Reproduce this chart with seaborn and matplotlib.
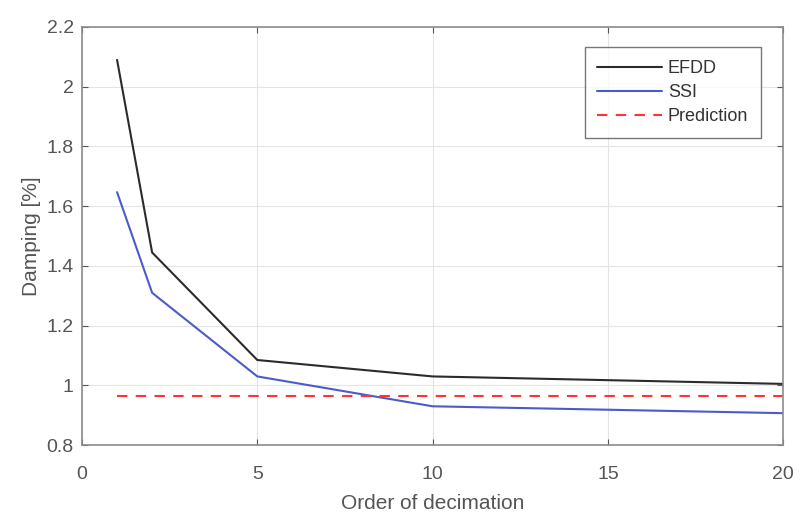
import numpy as np
import pandas as pd
import matplotlib
matplotlib.use("Agg")
import matplotlib.pyplot as plt
import seaborn as sns

decimation = [1, 2, 5, 10, 20]
efdd = [2.09, 1.445, 1.085, 1.03, 1.005]
ssi = [1.647, 1.31, 1.03, 0.93, 0.907]
pred_x = [1, 20]
pred = [0.965, 0.965]

sns.set_style("white")
plt.rcParams["font.family"] = ["Liberation Sans", "DejaVu Sans"]

df = pd.DataFrame({"x": decimation, "EFDD": efdd, "SSI": ssi})

fig = plt.figure(figsize=(8, 5.14), dpi=100)
ax = fig.add_axes([0.1025, 0.134, 0.8765, 0.8135])

sns.lineplot(data=df, x="x", y="EFDD", ax=ax, color="#2b2b2b", lw=1.5, label="EFDD")
sns.lineplot(data=df, x="x", y="SSI", ax=ax, color="#4a5cc9", lw=1.5, label="SSI")
ax.plot(pred_x, pred, color="#ff3333", lw=1.5, ls=(0, (5, 4)), label="Prediction")

ax.set_xlim(0, 20)
ax.set_ylim(0.8, 2.2)
ax.set_xticks([0, 5, 10, 15, 20])
ax.set_yticks(np.round(np.arange(0.8, 2.21, 0.2), 1))
ax.set_yticklabels(["0.8", "1", "1.2", "1.4", "1.6", "1.8", "2", "2.2"])
ax.grid(True, color="#e4e4e4", lw=0.8)
for s in ax.spines.values():
    s.set_color("#8c8c8c")
    s.set_linewidth(1.2)
ax.tick_params(axis="both", direction="in", length=4, color="#555555",
               labelsize=14, labelcolor="#555555", pad=6,
               top=True, right=True, bottom=True, left=True)
ax.tick_params(axis="x", pad=15)
ax.set_xlabel("Order of decimation", fontsize=15, color="#555555", labelpad=8)
ax.set_ylabel("Damping [%]", fontsize=15, color="#555555")

leg = ax.legend(loc="upper right", bbox_to_anchor=(0.981, 0.973), fontsize=13,
                frameon=True, fancybox=False, handlelength=3.6, borderpad=0.7,
                labelspacing=0.4, handletextpad=0.3)
leg.get_frame().set_edgecolor("#555555")
leg.get_frame().set_linewidth(1.0)
for t in leg.get_texts():
    t.set_color("#333333")

fig.savefig("out.png", dpi=100)
